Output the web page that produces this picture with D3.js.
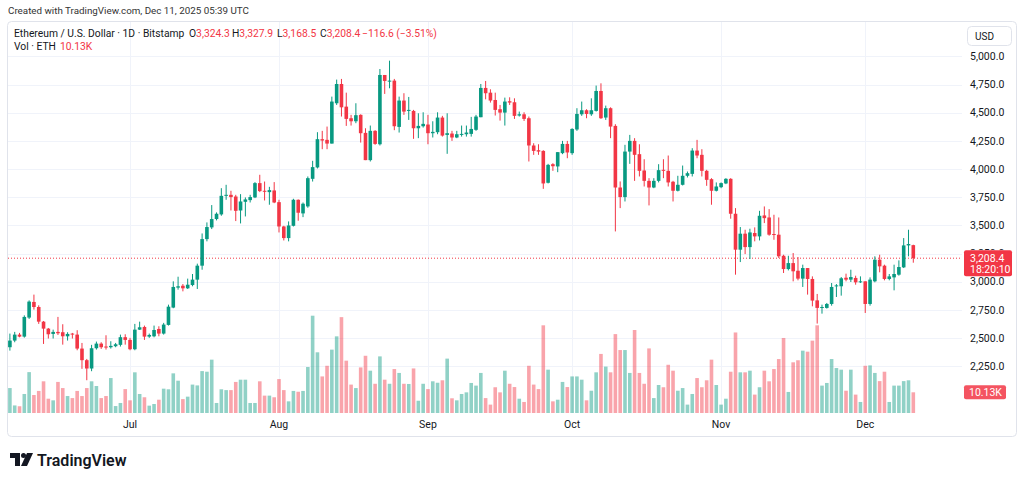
<!DOCTYPE html>
<html>
<head>
<meta charset="utf-8">
<script src="https://cdn.jsdelivr.net/npm/d3@7"></script>
<style>
  body { margin: 0; background: #ffffff; }
  svg { display: block; font-family: Roboto, "Liberation Sans", sans-serif; }
</style>
</head>
<body>
<script>
// ETH/USD daily candles, Bitstamp, Jun 6 - Dec 11 2025
var startDay = "2025-06-06";

var opens = [2418,2477,2530,2512,2681,2820,2775,2645,2583,2536,
  2554,2551,2515,2539,2530,2406,2303,2229,2409,2450,
  2424,2418,2427,2439,2507,2483,2400,2574,2598,2512,
  2515,2580,2539,2616,2770,2947,2964,2941,2970,3018,
  3142,3378,3482,3556,3597,3762,3771,3756,3632,3709,
  3724,3748,3875,3807,3795,3810,3706,3490,3387,3496,
  3727,3606,3668,3913,4014,4265,4259,4226,4584,4755,
  4554,4451,4424,4481,4321,4079,4339,4220,4835,4776,
  4785,4374,4608,4516,4516,4362,4380,4395,4318,4327,
  4457,4303,4315,4280,4303,4309,4312,4348,4460,4720,
  4678,4613,4531,4501,4602,4593,4475,4486,4451,4209,
  4167,4161,3878,4043,4023,4141,4223,4141,4351,4486,
  4522,4486,4516,4693,4457,4540,4383,3836,3751,4155,
  4250,4132,3987,3895,3836,3895,3993,3984,3887,3807,
  3860,3940,3957,4164,4126,3984,3910,3807,3839,3872,
  3913,3603,3284,3426,3307,3432,3402,3588,3570,3423,
  3417,3230,3112,3165,3097,3027,3121,3024,2834,2767,
  2767,2802,2959,2959,3035,3018,3033,2994,3003,2802,
  3003,3195,3142,3024,3038,3062,3127,3322,3324.3];

var highs = [2539,2554,2545,2701,2834,2885,2790,2651,2589,2574,
  2687,2622,2551,2545,2569,2456,2314,2439,2468,2462,
  2524,2471,2456,2530,2533,2501,2625,2645,2610,2539,
  2610,2604,2634,2796,3003,3044,2979,3027,3068,3160,
  3428,3526,3680,3615,3830,3860,3807,3771,3777,3748,
  3771,3884,3949,3889,3842,3884,3727,3496,3535,3736,
  3730,3703,3934,4073,4327,4339,4377,4643,4794,4800,
  4678,4481,4584,4486,4362,4386,4345,4888,4835,4962,
  4800,4643,4673,4640,4525,4495,4504,4481,4424,4504,
  4472,4495,4339,4339,4386,4386,4463,4481,4755,4782,
  4708,4678,4569,4634,4637,4628,4510,4504,4466,4229,
  4220,4167,4046,4052,4150,4250,4250,4362,4540,4599,
  4531,4628,4741,4761,4563,4548,4398,3890,4215,4303,
  4274,4220,4087,3919,3919,4043,4087,4120,3895,3940,
  4031,3978,4185,4259,4176,3993,3919,3881,3881,3919,
  3919,3653,3485,3461,3470,3482,3629,3668,3644,3594,
  3570,3239,3230,3254,3219,3151,3121,3047,2891,2796,
  2811,2988,2979,3041,3071,3106,3053,3047,3003,3038,
  3225,3239,3151,3068,3151,3189,3387,3461,3327.9];

var lows = [2388,2462,2506,2503,2669,2752,2625,2447,2495,2495,
  2527,2441,2477,2495,2391,2226,2125,2205,2397,2403,
  2397,2406,2418,2424,2441,2391,2391,2571,2483,2501,
  2506,2515,2530,2610,2764,2929,2914,2935,2959,2935,
  3106,3358,3467,3544,3585,3727,3632,3538,3517,3579,
  3703,3742,3795,3721,3683,3697,3437,3366,3358,3490,
  3541,3573,3656,3889,4005,4176,4176,4226,4569,4466,
  4383,4386,4407,4235,4079,4067,4215,4209,4667,4717,
  4345,4324,4481,4436,4268,4274,4368,4220,4280,4309,
  4288,4135,4250,4274,4288,4288,4288,4339,4460,4619,
  4590,4475,4430,4386,4569,4445,4466,4427,4067,4126,
  4126,3824,3872,3984,3972,4132,4096,4126,4339,4472,
  4451,4472,4510,4445,4436,4274,3446,3653,3712,4046,
  3895,3934,3845,3677,3830,3881,3919,3845,3712,3801,
  3854,3925,3934,4096,3934,3851,3683,3801,3830,3866,
  3559,3062,3174,3245,3201,3358,3366,3520,3408,3372,
  3210,3077,3100,3003,3012,2953,2885,2781,2628,2716,
  2761,2787,2864,2876,3003,2997,2973,2988,2722,2787,
  2994,3083,3012,3012,2923,3053,3121,3225,3168.5];

var closes = [2477,2530,2512,2687,2823,2775,2645,2583,2533,2554,
  2542,2515,2536,2533,2406,2303,2229,2409,2450,2418,
  2418,2430,2444,2507,2483,2400,2574,2595,2512,2527,
  2571,2539,2619,2778,2953,2959,2941,2973,3018,3142,
  3378,3485,3556,3603,3762,3771,3751,3629,3712,3730,
  3751,3875,3804,3798,3813,3703,3490,3387,3499,3727,
  3612,3692,3919,4017,4265,4253,4226,4599,4755,4548,
  4445,4424,4478,4318,4079,4339,4223,4835,4782,4785,
  4380,4608,4510,4525,4362,4383,4401,4318,4330,4457,
  4297,4318,4280,4309,4312,4324,4356,4466,4720,4673,
  4608,4525,4501,4599,4590,4472,4486,4445,4209,4161,
  4155,3872,4037,4025,4150,4223,4147,4356,4489,4522,
  4489,4522,4693,4451,4540,4377,3836,3751,4155,4250,
  4126,3984,3895,3836,3895,3990,3984,3881,3807,3860,
  3940,3963,4164,4120,3984,3904,3807,3845,3875,3913,
  3603,3284,3426,3307,3437,3402,3585,3564,3417,3417,
  3225,3112,3165,3092,3027,3121,3024,2832,2767,2775,
  2802,2953,2967,3030,3018,3041,2994,3003,2802,3018,
  3195,3136,3024,3047,3068,3130,3322,3334,3208.4];

// volume in thousands of ETH
var volumes = [12.2,3.7,3.3,9.3,20.0,8.8,10.8,15.5,7.0,6.2,
  15.2,12.2,8.3,7.3,10.8,8.3,12.2,15.5,13.2,7.3,
  8.3,17.1,3.4,4.9,11.7,6.2,19.9,9.3,7.7,3.6,
  4.4,6.5,11.9,11.6,19.4,15.8,6.8,8.0,13.9,13.5,
  20.5,20.2,26.1,4.9,11.6,11.2,11.2,15.2,16.3,16.3,
  4.9,4.9,15.5,8.5,8.5,7.7,16.6,11.2,5.7,10.8,
  10.4,10.8,22.5,47.6,29.7,17.9,23.1,31.0,37.5,46.9,
  25.6,13.9,12.2,22.3,28.0,20.7,14.3,27.7,16.3,14.3,
  21.5,19.6,14.3,14.2,21.8,6.0,14.3,11.7,15.5,14.8,
  16.0,26.6,7.2,6.2,9.3,10.1,14.7,13.4,19.6,7.3,
  4.1,12.6,10.1,20.7,14.3,12.7,7.0,5.4,23.1,13.9,
  11.7,42.9,21.2,5.7,6.5,15.2,12.7,17.9,17.9,16.3,
  6.2,10.9,19.9,28.9,22.7,19.9,38.6,30.8,30.8,19.6,
  40.6,19.6,14.3,31.6,7.3,13.7,12.6,23.6,20.7,10.9,
  12.2,4.1,9.3,17.1,12.6,16.0,26.1,13.7,4.1,7.0,
  20.2,39.4,19.9,19.9,20.7,9.0,12.6,20.7,15.5,21.5,
  26.4,36.7,10.3,24.8,25.8,30.5,30.0,35.4,42.9,13.4,
  14.7,26.4,22.0,21.2,10.9,21.2,9.0,5.4,23.1,23.3,
  19.6,15.6,20.2,5.4,13.4,13.4,15.6,16.0,10.13];

var priceTicks = [2250,2500,2750,3000,3250,3500,3750,4000,4250,4500,4750,5000];
var legendTitle = "Ethereum / U.S. Dollar \u00b7 1D \u00b7 Bitstamp";
var lastChange = -116.6,
    lastChangePct = -3.51;
var lastCountdown = "18:20:10";

var upColor = "#089981",
    downColor = "#f23645",
    textColor = "#131722",
    gridColor = "#f0f3fa",
    borderColor = "#e0e3eb";

function drawChart()
{
    var width = 1024,
        height = 484;

    var pane = {left: 8, right: 962, top: 22, bottom: 413};

    var svg = d3.select("body").append("svg")
        .attr("width", width)
        .attr("height", height);

    svg.append("rect")
        .attr("width", width)
        .attr("height", height)
        .attr("fill", "#ffffff");

    var parse = d3.utcParse("%Y-%m-%d");
    var day0 = parse(startDay);
    var candles = opens.map(function(o, i) {
        return {date: d3.utcDay.offset(day0, i), open: o, high: highs[i],
                low: lows[i], close: closes[i], vol: volumes[i]};
    });
    var lastDate = candles[candles.length - 1].date;

    var x = d3.scaleUtc()
        .domain([day0, lastDate])
        .range([9.9, 913.3]);

    var y = d3.scaleLinear()
        .domain([2000, 5000])
        .range([394.3, 56.4]);

    var yVol = d3.scaleLinear()
        .domain([0, 50])
        .range([pane.bottom, pane.bottom - 102.2]);

    // frame
    svg.append("rect")
        .attr("x", 7.5).attr("y", 21.5)
        .attr("width", 1009).attr("height", 415)
        .attr("rx", 4)
        .attr("fill", "none")
        .attr("stroke", borderColor);

    svg.append("clipPath").attr("id", "paneClip")
      .append("rect")
        .attr("x", pane.left).attr("y", pane.top)
        .attr("width", pane.right - pane.left)
        .attr("height", pane.bottom - pane.top);

    var grid = svg.append("g");
    var months = d3.utcMonth.range(d3.utcMonth.ceil(day0), lastDate);

    grid.selectAll(".hgrid")
        .data(priceTicks)
        .enter().append("line")
        .attr("x1", pane.left).attr("x2", pane.right)
        .attr("y1", function(d) { return Math.round(y(d)) + 0.5; })
        .attr("y2", function(d) { return Math.round(y(d)) + 0.5; })
        .attr("stroke", gridColor);

    grid.selectAll(".vgrid")
        .data(months)
        .enter().append("line")
        .attr("x1", function(d) { return Math.round(x(d)) + 0.5; })
        .attr("x2", function(d) { return Math.round(x(d)) + 0.5; })
        .attr("y1", pane.top).attr("y2", pane.bottom)
        .attr("stroke", gridColor);

    var plot = svg.append("g").attr("clip-path", "url(#paneClip)");

    // volume
    var bw = 3.6;
    plot.selectAll(".vol")
        .data(candles)
        .enter().append("rect")
        .attr("x", function(d) { return x(d.date) - bw / 2; })
        .attr("y", function(d) { return yVol(d.vol); })
        .attr("width", bw)
        .attr("height", function(d) { return yVol(0) - yVol(d.vol); })
        .attr("fill", function(d) { return d.close >= d.open ? upColor : downColor; })
        .attr("opacity", 0.45);

    // last price line
    var lastClose = closes[closes.length - 1];
    plot.append("line")
        .attr("x1", pane.left).attr("x2", pane.right)
        .attr("y1", y(lastClose))
        .attr("y2", y(lastClose))
        .attr("stroke", downColor)
        .attr("stroke-width", 1)
        .attr("stroke-dasharray", "1,2");

    // candles
    var cg = plot.selectAll(".candle")
        .data(candles)
        .enter().append("g");

    cg.append("line")
        .attr("x1", function(d) { return x(d.date); })
        .attr("x2", function(d) { return x(d.date); })
        .attr("y1", function(d) { return y(d.high); })
        .attr("y2", function(d) { return y(d.low); })
        .attr("stroke", function(d) { return d.close >= d.open ? upColor : downColor; })
        .attr("stroke-width", 1);

    cg.append("rect")
        .attr("x", function(d) { return x(d.date) - bw / 2; })
        .attr("y", function(d) { return y(Math.max(d.open, d.close)); })
        .attr("width", bw)
        .attr("height", function(d) { return Math.max(1, Math.abs(y(d.open) - y(d.close))); })
        .attr("fill", function(d) { return d.close >= d.open ? upColor : downColor; });

    // price axis
    var fmt = d3.format(",.1f");
    var ly = y(lastClose);

    // the 3,250 label sits partly under the last price tag, as in the original
    svg.append("clipPath").attr("id", "axisClip")
      .append("rect")
        .attr("x", 963).attr("y", 0)
        .attr("width", 60).attr("height", ly - 8);

    svg.selectAll(".ptick")
        .data(priceTicks)
        .enter().append("text")
        .attr("x", 970)
        .attr("y", function(d) { return y(d); })
        .attr("dy", "0.35em")
        .attr("font-size", 10.5)
        .attr("fill", textColor)
        .attr("clip-path", function(d) { return d === 3250 ? "url(#axisClip)" : null; })
        .text(function(d) { return fmt(d); });

    svg.append("rect")
        .attr("x", 967.5).attr("y", 26.5)
        .attr("width", 44).attr("height", 19)
        .attr("rx", 4)
        .attr("fill", "#fff")
        .attr("stroke", borderColor);
    svg.append("text")
        .attr("x", 975).attr("y", 39.5)
        .attr("font-size", 10)
        .attr("fill", textColor)
        .text("USD");

    // last price tag
    svg.append("rect")
        .attr("x", 964).attr("y", ly - 8)
        .attr("width", 48).attr("height", 26)
        .attr("rx", 2)
        .attr("fill", downColor);
    svg.append("text")
        .attr("x", 970).attr("y", ly).attr("dy", "0.35em")
        .attr("font-size", 10.5).attr("fill", "#fff")
        .text(fmt(lastClose));
    svg.append("text")
        .attr("x", 970).attr("y", ly + 11).attr("dy", "0.35em")
        .attr("font-size", 10.5).attr("fill", "#fff")
        .text(lastCountdown);

    // volume tag
    var vy = yVol(volumes[volumes.length - 1]);
    svg.append("rect")
        .attr("x", 964).attr("y", vy - 7)
        .attr("width", 42).attr("height", 14)
        .attr("rx", 2)
        .attr("fill", downColor)
        .attr("opacity", 0.85);
    svg.append("text")
        .attr("x", 969).attr("y", vy).attr("dy", "0.35em")
        .attr("font-size", 10.5).attr("fill", "#fff")
        .text(d3.format(".2f")(volumes[volumes.length - 1]) + "K");

    // time axis
    svg.selectAll(".ttick")
        .data(months)
        .enter().append("text")
        .attr("x", function(d) { return x(d); })
        .attr("y", 424)
        .attr("dy", "0.35em")
        .attr("text-anchor", "middle")
        .attr("font-size", 10.5)
        .attr("fill", textColor)
        .text(d3.utcFormat("%b"));

    // header
    svg.append("text")
        .attr("x", 8).attr("y", 14)
        .attr("font-size", 9.8)
        .attr("fill", "#333")
        .text("Created with TradingView.com, Dec 11, 2025 05:39 UTC");

    var last = candles[candles.length - 1];
    var legend = svg.append("text")
        .attr("y", 37)
        .attr("font-size", 10.3)
        .attr("fill", textColor);
    legend.append("tspan").attr("x", 14).text(legendTitle);
    var parts = [["O", last.open, 189], ["H", last.high, 232], ["L", last.low, 277], ["C", last.close, 320]];
    parts.forEach(function(p) {
        legend.append("tspan").attr("x", p[2]).text(p[0]);
        legend.append("tspan").attr("fill", downColor).text(fmt(p[1]));
    });
    legend.append("tspan").attr("x", 362).attr("fill", downColor)
        .text("\u2212" + fmt(Math.abs(lastChange)) + " (\u2212" + d3.format(".2f")(Math.abs(lastChangePct)) + "%)");

    var vlegend = svg.append("text")
        .attr("y", 50)
        .attr("font-size", 10.3)
        .attr("fill", textColor);
    vlegend.append("tspan").attr("x", 14).text("Vol \u00b7 ETH");
    vlegend.append("tspan").attr("x", 60).attr("fill", downColor)
        .text(d3.format(".2f")(last.vol) + "K");

    // logo
    var logo = svg.append("g").attr("transform", "translate(10,453)");
    logo.append("path")
        .attr("d", "M0,0 H10 V13 H5 V5 H0 Z")
        .attr("fill", textColor);
    logo.append("circle")
        .attr("cx", 13.5).attr("cy", 2.5).attr("r", 2.5)
        .attr("fill", textColor);
    logo.append("path")
        .attr("d", "M17,0 H23 L17,13 H11 Z")
        .attr("fill", textColor);
    svg.append("text")
        .attr("x", 37).attr("y", 466)
        .attr("font-size", 16)
        .attr("font-weight", 600)
        .attr("fill", textColor)
        .text("TradingView");
}

drawChart();
</script>
</body>
</html>
